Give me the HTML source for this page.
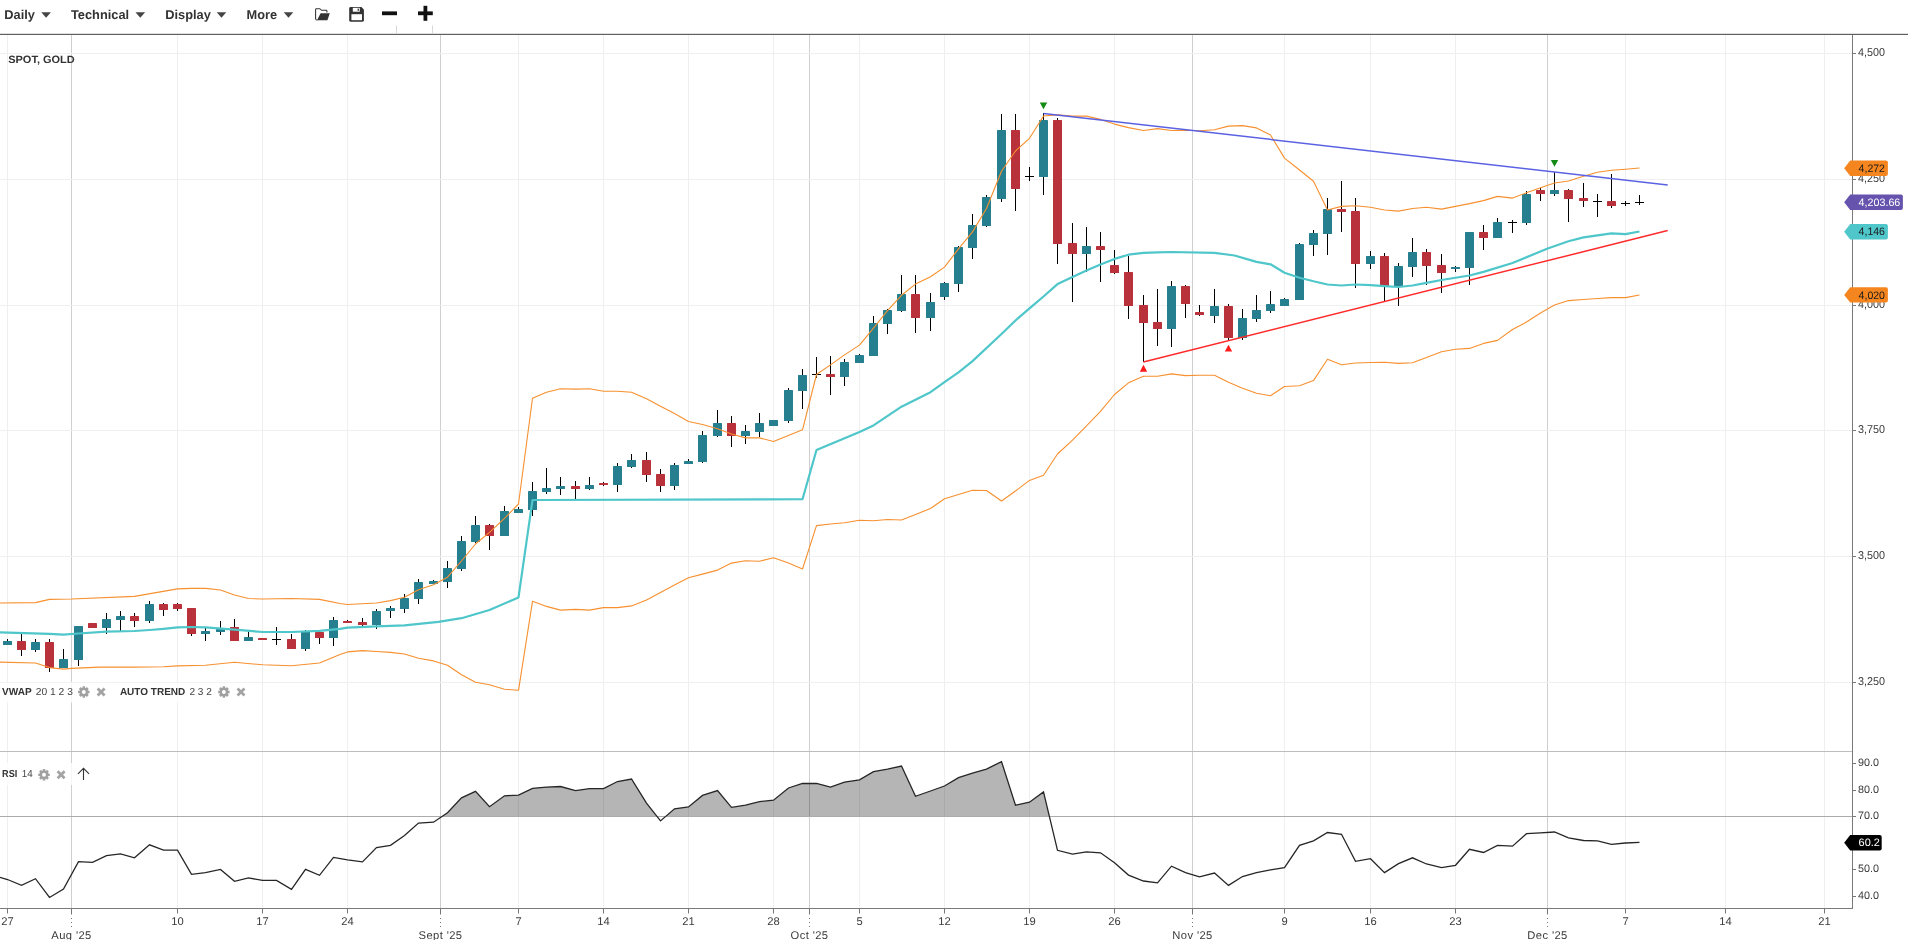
<!DOCTYPE html><html><head><meta charset="utf-8"><title>SPOT, GOLD</title><style>html,body{margin:0;padding:0;background:#fff;overflow:hidden;position:relative}svg{display:block;will-change:transform}text{font-family:"Liberation Sans",sans-serif;text-rendering:geometricPrecision}</style></head><body><svg width="1908" height="940" viewBox="0 0 1908 940"><rect x="0" y="0" width="1908" height="940" fill="#fff"/><line x1="7.5" y1="35" x2="7.5" y2="908" stroke="#efefef" stroke-width="1"/><line x1="177.5" y1="35" x2="177.5" y2="908" stroke="#efefef" stroke-width="1"/><line x1="262.5" y1="35" x2="262.5" y2="908" stroke="#efefef" stroke-width="1"/><line x1="347.5" y1="35" x2="347.5" y2="908" stroke="#efefef" stroke-width="1"/><line x1="518.5" y1="35" x2="518.5" y2="908" stroke="#efefef" stroke-width="1"/><line x1="603.5" y1="35" x2="603.5" y2="908" stroke="#efefef" stroke-width="1"/><line x1="688.5" y1="35" x2="688.5" y2="908" stroke="#efefef" stroke-width="1"/><line x1="773.5" y1="35" x2="773.5" y2="908" stroke="#efefef" stroke-width="1"/><line x1="859.5" y1="35" x2="859.5" y2="908" stroke="#efefef" stroke-width="1"/><line x1="944.5" y1="35" x2="944.5" y2="908" stroke="#efefef" stroke-width="1"/><line x1="1029.5" y1="35" x2="1029.5" y2="908" stroke="#efefef" stroke-width="1"/><line x1="1114.5" y1="35" x2="1114.5" y2="908" stroke="#efefef" stroke-width="1"/><line x1="1284.5" y1="35" x2="1284.5" y2="908" stroke="#efefef" stroke-width="1"/><line x1="1370.5" y1="35" x2="1370.5" y2="908" stroke="#efefef" stroke-width="1"/><line x1="1455.5" y1="35" x2="1455.5" y2="908" stroke="#efefef" stroke-width="1"/><line x1="1625.5" y1="35" x2="1625.5" y2="908" stroke="#efefef" stroke-width="1"/><line x1="1725.5" y1="35" x2="1725.5" y2="908" stroke="#efefef" stroke-width="1"/><line x1="1824.5" y1="35" x2="1824.5" y2="908" stroke="#efefef" stroke-width="1"/><line x1="71.5" y1="35" x2="71.5" y2="908" stroke="#cfcfcf" stroke-width="1"/><line x1="440.5" y1="35" x2="440.5" y2="908" stroke="#cfcfcf" stroke-width="1"/><line x1="809.5" y1="35" x2="809.5" y2="908" stroke="#cfcfcf" stroke-width="1"/><line x1="1192.5" y1="35" x2="1192.5" y2="908" stroke="#cfcfcf" stroke-width="1"/><line x1="1547.5" y1="35" x2="1547.5" y2="908" stroke="#cfcfcf" stroke-width="1"/><line x1="0" y1="53.5" x2="1852.5" y2="53.5" stroke="#f0f0f0" stroke-width="1"/><line x1="0" y1="179.5" x2="1852.5" y2="179.5" stroke="#f0f0f0" stroke-width="1"/><line x1="0" y1="305.5" x2="1852.5" y2="305.5" stroke="#f0f0f0" stroke-width="1"/><line x1="0" y1="430.5" x2="1852.5" y2="430.5" stroke="#f0f0f0" stroke-width="1"/><line x1="0" y1="556.5" x2="1852.5" y2="556.5" stroke="#f0f0f0" stroke-width="1"/><line x1="0" y1="682.5" x2="1852.5" y2="682.5" stroke="#f0f0f0" stroke-width="1"/><rect x="7" y="639" width="1" height="6" fill="#000"/><rect x="3" y="641" width="9" height="4" rx="0.6" fill="#267f8f"/><rect x="21" y="634" width="1" height="22" fill="#000"/><rect x="17" y="641" width="9" height="9" rx="0.6" fill="#b9313a"/><rect x="35" y="639" width="1" height="13" fill="#000"/><rect x="31" y="642" width="9" height="8" rx="0.6" fill="#267f8f"/><rect x="49" y="639" width="1" height="33" fill="#000"/><rect x="45" y="642" width="9" height="26" rx="0.6" fill="#b9313a"/><rect x="63" y="649" width="1" height="19" fill="#000"/><rect x="59" y="659" width="9" height="9" rx="0.6" fill="#267f8f"/><rect x="78" y="626" width="1" height="40" fill="#000"/><rect x="74" y="626" width="9" height="34" rx="0.6" fill="#267f8f"/><rect x="92" y="623" width="1" height="5" fill="#000"/><rect x="88" y="623" width="9" height="5" rx="0.6" fill="#b9313a"/><rect x="106" y="613" width="1" height="21" fill="#000"/><rect x="102" y="619" width="9" height="9" rx="0.6" fill="#267f8f"/><rect x="120" y="611" width="1" height="20" fill="#000"/><rect x="116" y="616" width="9" height="4" rx="0.6" fill="#267f8f"/><rect x="134" y="613" width="1" height="14" fill="#000"/><rect x="130" y="616" width="9" height="5" rx="0.6" fill="#b9313a"/><rect x="149" y="601" width="1" height="22" fill="#000"/><rect x="145" y="604" width="9" height="17" rx="0.6" fill="#267f8f"/><rect x="163" y="603" width="1" height="13" fill="#000"/><rect x="159" y="604" width="9" height="6" rx="0.6" fill="#b9313a"/><rect x="177" y="603" width="1" height="8" fill="#000"/><rect x="173" y="604" width="9" height="5" rx="0.6" fill="#b9313a"/><rect x="191" y="608" width="1" height="28" fill="#000"/><rect x="187" y="608" width="9" height="26" rx="0.6" fill="#b9313a"/><rect x="205" y="628" width="1" height="13" fill="#000"/><rect x="201" y="631" width="9" height="3" rx="0.6" fill="#267f8f"/><rect x="220" y="621" width="1" height="14" fill="#000"/><rect x="216" y="629" width="9" height="3" rx="0.6" fill="#267f8f"/><rect x="234" y="619" width="1" height="22" fill="#000"/><rect x="230" y="627" width="9" height="14" rx="0.6" fill="#b9313a"/><rect x="248" y="632" width="1" height="9" fill="#000"/><rect x="244" y="637" width="9" height="4" rx="0.6" fill="#267f8f"/><rect x="262" y="638" width="1" height="2" fill="#000"/><rect x="258" y="638" width="9" height="2" rx="0.6" fill="#b9313a"/><rect x="276" y="627" width="1" height="18" fill="#000"/><rect x="272" y="639" width="9" height="1" fill="#000"/><rect x="291" y="634" width="1" height="15" fill="#000"/><rect x="287" y="639" width="9" height="10" rx="0.6" fill="#b9313a"/><rect x="305" y="630" width="1" height="21" fill="#000"/><rect x="301" y="631" width="9" height="18" rx="0.6" fill="#267f8f"/><rect x="319" y="632" width="1" height="12" fill="#000"/><rect x="315" y="632" width="9" height="6" rx="0.6" fill="#b9313a"/><rect x="333" y="617" width="1" height="29" fill="#000"/><rect x="329" y="620" width="9" height="18" rx="0.6" fill="#267f8f"/><rect x="347" y="620" width="1" height="3" fill="#000"/><rect x="343" y="621" width="9" height="2" rx="0.6" fill="#b9313a"/><rect x="362" y="618" width="1" height="8" fill="#000"/><rect x="358" y="622" width="9" height="3" rx="0.6" fill="#b9313a"/><rect x="376" y="609" width="1" height="20" fill="#000"/><rect x="372" y="611" width="9" height="14" rx="0.6" fill="#267f8f"/><rect x="390" y="606" width="1" height="12" fill="#000"/><rect x="386" y="608" width="9" height="3" rx="0.6" fill="#267f8f"/><rect x="404" y="594" width="1" height="19" fill="#000"/><rect x="400" y="598" width="9" height="11" rx="0.6" fill="#267f8f"/><rect x="418" y="579" width="1" height="25" fill="#000"/><rect x="414" y="582" width="9" height="17" rx="0.6" fill="#267f8f"/><rect x="433" y="580" width="1" height="4" fill="#000"/><rect x="429" y="581" width="9" height="3" rx="0.6" fill="#267f8f"/><rect x="447" y="561" width="1" height="27" fill="#000"/><rect x="443" y="568" width="9" height="14" rx="0.6" fill="#267f8f"/><rect x="461" y="536" width="1" height="35" fill="#000"/><rect x="457" y="541" width="9" height="28" rx="0.6" fill="#267f8f"/><rect x="475" y="516" width="1" height="27" fill="#000"/><rect x="471" y="525" width="9" height="17" rx="0.6" fill="#267f8f"/><rect x="489" y="524" width="1" height="26" fill="#000"/><rect x="485" y="525" width="9" height="11" rx="0.6" fill="#b9313a"/><rect x="504" y="506" width="1" height="30" fill="#000"/><rect x="500" y="511" width="9" height="25" rx="0.6" fill="#267f8f"/><rect x="518" y="507" width="1" height="6" fill="#000"/><rect x="514" y="509" width="9" height="4" rx="0.6" fill="#267f8f"/><rect x="532" y="482" width="1" height="34" fill="#000"/><rect x="528" y="491" width="9" height="19" rx="0.6" fill="#267f8f"/><rect x="546" y="468" width="1" height="26" fill="#000"/><rect x="542" y="488" width="9" height="4" rx="0.6" fill="#267f8f"/><rect x="560" y="477" width="1" height="18" fill="#000"/><rect x="556" y="486" width="9" height="3" rx="0.6" fill="#267f8f"/><rect x="575" y="481" width="1" height="18" fill="#000"/><rect x="571" y="486" width="9" height="3" rx="0.6" fill="#b9313a"/><rect x="589" y="477" width="1" height="13" fill="#000"/><rect x="585" y="485" width="9" height="4" rx="0.6" fill="#267f8f"/><rect x="603" y="482" width="1" height="4" fill="#000"/><rect x="599" y="483" width="9" height="2" rx="0.6" fill="#b9313a"/><rect x="617" y="463" width="1" height="29" fill="#000"/><rect x="613" y="466" width="9" height="19" rx="0.6" fill="#267f8f"/><rect x="631" y="454" width="1" height="14" fill="#000"/><rect x="627" y="460" width="9" height="7" rx="0.6" fill="#267f8f"/><rect x="646" y="452" width="1" height="30" fill="#000"/><rect x="642" y="460" width="9" height="15" rx="0.6" fill="#b9313a"/><rect x="660" y="469" width="1" height="23" fill="#000"/><rect x="656" y="474" width="9" height="12" rx="0.6" fill="#b9313a"/><rect x="674" y="463" width="1" height="27" fill="#000"/><rect x="670" y="465" width="9" height="21" rx="0.6" fill="#267f8f"/><rect x="688" y="459" width="1" height="5" fill="#000"/><rect x="684" y="461" width="9" height="3" rx="0.6" fill="#267f8f"/><rect x="702" y="431" width="1" height="32" fill="#000"/><rect x="698" y="435" width="9" height="27" rx="0.6" fill="#267f8f"/><rect x="717" y="410" width="1" height="27" fill="#000"/><rect x="713" y="423" width="9" height="13" rx="0.6" fill="#267f8f"/><rect x="731" y="416" width="1" height="31" fill="#000"/><rect x="727" y="423" width="9" height="13" rx="0.6" fill="#b9313a"/><rect x="745" y="425" width="1" height="19" fill="#000"/><rect x="741" y="431" width="9" height="5" rx="0.6" fill="#267f8f"/><rect x="759" y="413" width="1" height="24" fill="#000"/><rect x="755" y="423" width="9" height="9" rx="0.6" fill="#267f8f"/><rect x="773" y="420" width="1" height="6" fill="#000"/><rect x="769" y="420" width="9" height="6" rx="0.6" fill="#267f8f"/><rect x="788" y="388" width="1" height="35" fill="#000"/><rect x="784" y="390" width="9" height="31" rx="0.6" fill="#267f8f"/><rect x="802" y="369" width="1" height="40" fill="#000"/><rect x="798" y="375" width="9" height="16" rx="0.6" fill="#267f8f"/><rect x="816" y="357" width="1" height="21" fill="#000"/><rect x="812" y="374" width="9" height="1" fill="#000"/><rect x="830" y="356" width="1" height="39" fill="#000"/><rect x="826" y="374" width="9" height="3" rx="0.6" fill="#b9313a"/><rect x="844" y="359" width="1" height="27" fill="#000"/><rect x="840" y="362" width="9" height="15" rx="0.6" fill="#267f8f"/><rect x="859" y="354" width="1" height="9" fill="#000"/><rect x="855" y="355" width="9" height="8" rx="0.6" fill="#267f8f"/><rect x="873" y="316" width="1" height="40" fill="#000"/><rect x="869" y="323" width="9" height="33" rx="0.6" fill="#267f8f"/><rect x="887" y="309" width="1" height="25" fill="#000"/><rect x="883" y="310" width="9" height="14" rx="0.6" fill="#267f8f"/><rect x="901" y="275" width="1" height="37" fill="#000"/><rect x="897" y="294" width="9" height="17" rx="0.6" fill="#267f8f"/><rect x="915" y="275" width="1" height="58" fill="#000"/><rect x="911" y="294" width="9" height="24" rx="0.6" fill="#b9313a"/><rect x="930" y="293" width="1" height="38" fill="#000"/><rect x="926" y="302" width="9" height="16" rx="0.6" fill="#267f8f"/><rect x="944" y="282" width="1" height="18" fill="#000"/><rect x="940" y="283" width="9" height="14" rx="0.6" fill="#267f8f"/><rect x="958" y="246" width="1" height="46" fill="#000"/><rect x="954" y="247" width="9" height="37" rx="0.6" fill="#267f8f"/><rect x="972" y="214" width="1" height="45" fill="#000"/><rect x="968" y="225" width="9" height="23" rx="0.6" fill="#267f8f"/><rect x="986" y="195" width="1" height="32" fill="#000"/><rect x="982" y="197" width="9" height="29" rx="0.6" fill="#267f8f"/><rect x="1001" y="114" width="1" height="88" fill="#000"/><rect x="997" y="130" width="9" height="69" rx="0.6" fill="#267f8f"/><rect x="1015" y="114" width="1" height="97" fill="#000"/><rect x="1011" y="130" width="9" height="59" rx="0.6" fill="#b9313a"/><rect x="1029" y="167" width="1" height="14" fill="#000"/><rect x="1025" y="176" width="9" height="1" fill="#000"/><rect x="1043" y="113" width="1" height="82" fill="#000"/><rect x="1039" y="120" width="9" height="57" rx="0.6" fill="#267f8f"/><rect x="1057" y="118" width="1" height="146" fill="#000"/><rect x="1053" y="120" width="9" height="124" rx="0.6" fill="#b9313a"/><rect x="1072" y="223" width="1" height="79" fill="#000"/><rect x="1068" y="243" width="9" height="11" rx="0.6" fill="#b9313a"/><rect x="1086" y="227" width="1" height="45" fill="#000"/><rect x="1082" y="246" width="9" height="8" rx="0.6" fill="#267f8f"/><rect x="1100" y="232" width="1" height="50" fill="#000"/><rect x="1096" y="246" width="9" height="4" rx="0.6" fill="#b9313a"/><rect x="1114" y="250" width="1" height="24" fill="#000"/><rect x="1110" y="265" width="9" height="8" rx="0.6" fill="#b9313a"/><rect x="1128" y="256" width="1" height="63" fill="#000"/><rect x="1124" y="272" width="9" height="34" rx="0.6" fill="#b9313a"/><rect x="1143" y="295" width="1" height="67" fill="#000"/><rect x="1139" y="305" width="9" height="18" rx="0.6" fill="#b9313a"/><rect x="1157" y="289" width="1" height="57" fill="#000"/><rect x="1153" y="322" width="9" height="7" rx="0.6" fill="#b9313a"/><rect x="1171" y="281" width="1" height="66" fill="#000"/><rect x="1167" y="286" width="9" height="43" rx="0.6" fill="#267f8f"/><rect x="1185" y="285" width="1" height="33" fill="#000"/><rect x="1181" y="286" width="9" height="18" rx="0.6" fill="#b9313a"/><rect x="1199" y="305" width="1" height="11" fill="#000"/><rect x="1195" y="312" width="9" height="3" rx="0.6" fill="#b9313a"/><rect x="1214" y="289" width="1" height="34" fill="#000"/><rect x="1210" y="306" width="9" height="10" rx="0.6" fill="#267f8f"/><rect x="1228" y="304" width="1" height="36" fill="#000"/><rect x="1224" y="306" width="9" height="32" rx="0.6" fill="#b9313a"/><rect x="1242" y="309" width="1" height="31" fill="#000"/><rect x="1238" y="318" width="9" height="20" rx="0.6" fill="#267f8f"/><rect x="1256" y="295" width="1" height="27" fill="#000"/><rect x="1252" y="310" width="9" height="9" rx="0.6" fill="#267f8f"/><rect x="1270" y="291" width="1" height="22" fill="#000"/><rect x="1266" y="304" width="9" height="7" rx="0.6" fill="#267f8f"/><rect x="1284" y="298" width="1" height="8" fill="#000"/><rect x="1280" y="299" width="9" height="7" rx="0.6" fill="#267f8f"/><rect x="1299" y="243" width="1" height="57" fill="#000"/><rect x="1295" y="244" width="9" height="56" rx="0.6" fill="#267f8f"/><rect x="1313" y="230" width="1" height="26" fill="#000"/><rect x="1309" y="233" width="9" height="12" rx="0.6" fill="#267f8f"/><rect x="1327" y="198" width="1" height="57" fill="#000"/><rect x="1323" y="209" width="9" height="25" rx="0.6" fill="#267f8f"/><rect x="1341" y="181" width="1" height="51" fill="#000"/><rect x="1337" y="209" width="9" height="3" rx="0.6" fill="#b9313a"/><rect x="1355" y="198" width="1" height="90" fill="#000"/><rect x="1351" y="211" width="9" height="53" rx="0.6" fill="#b9313a"/><rect x="1370" y="251" width="1" height="18" fill="#000"/><rect x="1366" y="256" width="9" height="8" rx="0.6" fill="#267f8f"/><rect x="1384" y="253" width="1" height="48" fill="#000"/><rect x="1380" y="256" width="9" height="30" rx="0.6" fill="#b9313a"/><rect x="1398" y="263" width="1" height="43" fill="#000"/><rect x="1394" y="266" width="9" height="20" rx="0.6" fill="#267f8f"/><rect x="1412" y="238" width="1" height="39" fill="#000"/><rect x="1408" y="252" width="9" height="15" rx="0.6" fill="#267f8f"/><rect x="1426" y="249" width="1" height="36" fill="#000"/><rect x="1422" y="252" width="9" height="14" rx="0.6" fill="#b9313a"/><rect x="1441" y="254" width="1" height="39" fill="#000"/><rect x="1437" y="265" width="9" height="8" rx="0.6" fill="#b9313a"/><rect x="1455" y="266" width="1" height="6" fill="#000"/><rect x="1451" y="267" width="9" height="2" rx="0.6" fill="#267f8f"/><rect x="1469" y="232" width="1" height="53" fill="#000"/><rect x="1465" y="232" width="9" height="36" rx="0.6" fill="#267f8f"/><rect x="1483" y="225" width="1" height="25" fill="#000"/><rect x="1479" y="232" width="9" height="6" rx="0.6" fill="#b9313a"/><rect x="1497" y="218" width="1" height="20" fill="#000"/><rect x="1493" y="222" width="9" height="16" rx="0.6" fill="#267f8f"/><rect x="1512" y="220" width="1" height="13" fill="#000"/><rect x="1508" y="222" width="9" height="1" fill="#000"/><rect x="1526" y="191" width="1" height="34" fill="#000"/><rect x="1522" y="194" width="9" height="29" rx="0.6" fill="#267f8f"/><rect x="1540" y="188" width="1" height="13" fill="#000"/><rect x="1536" y="190" width="9" height="4" rx="0.6" fill="#b9313a"/><rect x="1554" y="172" width="1" height="24" fill="#000"/><rect x="1550" y="190" width="9" height="4" rx="0.6" fill="#267f8f"/><rect x="1568" y="189" width="1" height="33" fill="#000"/><rect x="1564" y="190" width="9" height="9" rx="0.6" fill="#b9313a"/><rect x="1583" y="183" width="1" height="24" fill="#000"/><rect x="1579" y="198" width="9" height="3" rx="0.6" fill="#b9313a"/><rect x="1597" y="194" width="1" height="23" fill="#000"/><rect x="1593" y="201" width="9" height="1" fill="#000"/><rect x="1611" y="174" width="1" height="34" fill="#000"/><rect x="1607" y="201" width="9" height="5" rx="0.6" fill="#b9313a"/><rect x="1625" y="201" width="1" height="5" fill="#000"/><rect x="1621" y="203" width="9" height="1" fill="#000"/><rect x="1639" y="195" width="1" height="10" fill="#000"/><rect x="1635" y="202" width="9" height="1" fill="#000"/><polyline points="0.0,603.0 35.5,602.6 49.5,599.4 71.3,599.0 134.5,596.4 177.5,588.9 191.5,588.4 205.5,588.4 220.5,590.0 234.5,595.0 248.5,598.5 262.5,599.0 291.5,598.5 319.5,599.4 340.0,603.5 347.5,604.5 376.5,603.0 390.5,600.6 404.5,597.3 418.5,589.8 433.5,584.7 447.5,577.2 461.5,561.0 475.5,544.0 489.5,532.3 504.5,518.3 518.5,504.0 532.5,398.3 546.5,392.3 560.5,388.7 575.5,389.1 589.5,388.7 603.5,391.3 617.5,391.3 631.5,392.3 646.5,398.7 660.5,406.2 674.5,413.6 688.5,421.5 702.5,424.5 717.5,428.7 731.5,434.0 745.5,437.9 759.5,437.9 773.5,441.5 802.5,429.8 816.5,374.5 830.5,364.9 844.5,354.9 859.5,345.1 873.5,328.2 887.5,310.7 901.5,295.3 915.5,284.1 930.5,276.7 944.5,267.1 958.5,248.9 972.5,231.9 986.5,208.5 1001.5,171.3 1015.5,151.0 1029.5,138.3 1043.5,116.0 1057.5,114.9 1072.5,116.1 1086.5,116.1 1100.5,119.4 1114.5,124.1 1128.5,127.6 1143.5,130.5 1157.5,128.6 1171.5,130.5 1185.5,130.2 1199.5,130.8 1214.5,129.8 1228.5,126.1 1242.5,125.6 1256.5,127.9 1270.5,135.0 1284.5,158.1 1299.5,170.0 1313.5,181.3 1327.5,210.0 1341.5,206.4 1355.5,205.7 1370.5,207.2 1384.5,210.0 1398.5,211.1 1412.5,208.5 1426.5,207.2 1441.5,209.1 1455.5,206.4 1469.5,203.6 1483.5,200.6 1497.5,196.4 1512.5,198.1 1526.5,192.8 1540.5,187.8 1554.5,183.0 1568.5,181.0 1583.5,176.2 1597.5,172.3 1611.5,170.3 1625.5,169.3 1639.5,168.0" fill="none" stroke="#f7902f" stroke-width="1.1" stroke-linejoin="round"/><polyline points="0.0,662.1 35.5,663.0 49.5,667.6 63.5,669.1 71.3,668.4 99.8,667.1 134.5,667.1 163.5,666.8 177.5,665.9 205.5,665.3 234.5,662.3 262.5,664.8 291.5,665.7 319.5,663.0 340.0,654.6 347.5,651.9 362.5,650.6 376.5,651.5 390.5,652.4 404.5,654.0 418.5,658.2 433.5,660.9 447.5,665.3 461.5,674.8 475.5,682.3 489.5,684.8 504.5,689.2 518.5,690.3 532.5,601.3 546.5,606.4 560.5,610.1 575.5,609.4 589.5,610.1 603.5,607.6 617.5,607.6 631.5,605.9 646.5,599.9 660.5,592.4 674.5,584.9 688.5,577.8 702.5,574.1 717.5,570.1 731.5,563.1 745.5,560.8 759.5,561.2 773.5,557.7 788.5,563.1 802.5,569.0 816.5,525.6 830.5,524.0 844.5,522.8 859.5,520.2 873.5,520.7 887.5,519.5 901.5,520.0 915.5,514.4 930.5,508.5 944.5,498.7 958.5,494.5 972.5,490.3 986.5,490.5 1001.5,501.0 1015.5,491.0 1029.5,480.4 1043.5,475.3 1057.5,454.0 1072.5,440.2 1086.5,425.9 1100.5,411.4 1114.5,394.5 1128.5,382.8 1143.5,376.3 1157.5,376.3 1171.5,373.9 1185.5,375.6 1199.5,375.3 1214.5,375.3 1228.5,382.3 1242.5,388.2 1256.5,393.2 1270.5,395.7 1284.5,386.5 1299.5,385.7 1313.5,380.6 1327.5,359.2 1341.5,364.7 1355.5,363.0 1370.5,362.5 1384.5,362.2 1398.5,363.4 1412.5,362.7 1426.5,357.5 1441.5,351.8 1455.5,349.3 1469.5,348.4 1483.5,343.4 1497.5,340.4 1512.5,329.5 1526.5,322.0 1540.5,313.0 1554.5,305.0 1568.5,300.6 1583.5,299.5 1597.5,298.5 1611.5,297.6 1625.5,297.6 1639.5,295.0" fill="none" stroke="#f7902f" stroke-width="1.1" stroke-linejoin="round"/><polyline points="0.0,632.4 49.5,633.8 63.5,634.7 78.5,633.5 106.5,631.7 134.5,631.0 149.5,630.0 163.5,628.8 177.5,627.4 191.5,627.0 205.5,627.4 234.5,629.7 262.5,632.0 291.5,632.0 319.5,630.9 340.0,628.8 347.5,627.6 376.5,626.4 404.5,625.3 438.4,621.9 461.5,618.2 489.5,610.0 518.5,597.4 532.5,500.0 802.5,499.2 816.5,450.0 859.5,431.9 873.5,425.4 901.5,406.7 930.5,392.2 944.5,382.1 958.5,372.3 972.5,361.1 1001.5,334.0 1015.5,320.5 1029.5,308.3 1043.5,296.5 1057.5,284.1 1072.5,277.0 1086.5,270.4 1100.5,264.5 1114.5,258.9 1128.5,254.7 1143.5,252.8 1157.5,252.3 1171.5,252.0 1214.5,252.8 1234.5,255.5 1256.5,261.9 1270.5,264.3 1284.5,272.8 1299.5,277.7 1313.5,281.3 1327.5,284.5 1341.5,285.5 1355.5,284.5 1370.5,285.1 1384.5,286.2 1398.5,287.0 1412.5,285.5 1426.5,282.8 1441.5,280.0 1469.5,275.5 1483.5,271.9 1512.5,263.0 1547.7,248.5 1568.5,241.3 1583.5,237.4 1611.5,233.3 1625.5,234.1 1639.5,231.5" fill="none" stroke="#4ec6ca" stroke-width="2.2" stroke-linejoin="round"/><line x1="1043.5" y1="113.4" x2="1667.7" y2="185" stroke="#5a62e2" stroke-width="1.5"/><line x1="1143.4" y1="361.9" x2="1667.7" y2="230.6" stroke="#ff2a2a" stroke-width="1.5"/><polygon points="1039.8,102.4 1047.2,102.4 1043.5,109.2" fill="#138a13"/><polygon points="1550.8,160.0 1558.2,160.0 1554.5,166.8" fill="#138a13"/><polygon points="1139.8,371.8 1147.2,371.8 1143.5,364.8" fill="#ff1a1a"/><polygon points="1224.8,351.6 1232.2,351.6 1228.5,344.8" fill="#ff1a1a"/><line x1="0" y1="751.5" x2="1852.5" y2="751.5" stroke="#bdbdbd" stroke-width="1"/><defs><clipPath id="c70"><rect x="0" y="752" width="1852" height="64.5"/></clipPath></defs><polygon points="0.0,877.4 7.5,879.5 21.5,885.4 35.5,878.7 49.5,897.5 63.5,889.0 78.5,861.7 92.5,862.3 106.5,855.7 120.5,853.9 134.5,857.8 149.5,844.8 163.5,850.1 177.5,850.1 191.5,874.4 205.5,872.6 220.5,869.4 234.5,881.3 248.5,877.9 262.5,880.4 276.5,880.4 291.5,889.3 305.5,869.4 319.5,875.3 333.5,857.4 347.5,859.9 362.5,861.9 376.5,847.6 390.5,845.3 404.5,835.5 418.5,823.1 433.5,822.2 447.5,812.7 461.5,797.8 475.5,791.3 489.5,806.7 504.5,795.8 518.5,795.1 532.5,788.3 546.5,787.1 560.5,786.5 575.5,790.6 589.5,788.7 603.5,788.7 617.5,781.5 631.5,779.0 646.5,803.1 660.5,820.9 674.5,808.8 688.5,807.0 702.5,795.4 717.5,790.6 731.5,807.4 745.5,805.2 759.5,801.7 773.5,800.2 788.5,788.0 802.5,783.5 816.5,783.3 830.5,787.1 844.5,782.1 859.5,779.9 873.5,771.7 887.5,769.1 901.5,766.0 915.5,796.3 930.5,791.0 944.5,786.0 958.5,777.6 972.5,773.2 986.5,769.1 1001.5,761.6 1015.5,805.2 1029.5,802.2 1043.5,791.9 1057.5,850.3 1072.5,854.2 1086.5,851.9 1100.5,852.8 1114.5,862.8 1128.5,875.1 1143.5,881.0 1157.5,882.8 1171.5,866.2 1185.5,872.6 1199.5,876.9 1214.5,873.0 1228.5,885.4 1242.5,876.5 1256.5,872.6 1270.5,869.9 1284.5,867.6 1299.5,845.3 1313.5,840.9 1327.5,832.5 1341.5,834.3 1355.5,861.4 1370.5,858.7 1384.5,872.6 1398.5,863.7 1412.5,857.8 1426.5,864.0 1441.5,867.6 1455.5,865.3 1469.5,849.3 1483.5,852.5 1497.5,845.3 1512.5,846.2 1526.5,833.7 1540.5,832.9 1554.5,832.0 1568.5,837.8 1583.5,840.5 1597.5,840.9 1611.5,844.4 1625.5,843.0 1639.5,842.3 1639.5,816.5 0.0,816.5" fill="rgba(0,0,0,0.29)" clip-path="url(#c70)"/><line x1="0" y1="816.5" x2="1852.5" y2="816.5" stroke="#ababab" stroke-width="1"/><polyline points="0.0,877.4 7.5,879.5 21.5,885.4 35.5,878.7 49.5,897.5 63.5,889.0 78.5,861.7 92.5,862.3 106.5,855.7 120.5,853.9 134.5,857.8 149.5,844.8 163.5,850.1 177.5,850.1 191.5,874.4 205.5,872.6 220.5,869.4 234.5,881.3 248.5,877.9 262.5,880.4 276.5,880.4 291.5,889.3 305.5,869.4 319.5,875.3 333.5,857.4 347.5,859.9 362.5,861.9 376.5,847.6 390.5,845.3 404.5,835.5 418.5,823.1 433.5,822.2 447.5,812.7 461.5,797.8 475.5,791.3 489.5,806.7 504.5,795.8 518.5,795.1 532.5,788.3 546.5,787.1 560.5,786.5 575.5,790.6 589.5,788.7 603.5,788.7 617.5,781.5 631.5,779.0 646.5,803.1 660.5,820.9 674.5,808.8 688.5,807.0 702.5,795.4 717.5,790.6 731.5,807.4 745.5,805.2 759.5,801.7 773.5,800.2 788.5,788.0 802.5,783.5 816.5,783.3 830.5,787.1 844.5,782.1 859.5,779.9 873.5,771.7 887.5,769.1 901.5,766.0 915.5,796.3 930.5,791.0 944.5,786.0 958.5,777.6 972.5,773.2 986.5,769.1 1001.5,761.6 1015.5,805.2 1029.5,802.2 1043.5,791.9 1057.5,850.3 1072.5,854.2 1086.5,851.9 1100.5,852.8 1114.5,862.8 1128.5,875.1 1143.5,881.0 1157.5,882.8 1171.5,866.2 1185.5,872.6 1199.5,876.9 1214.5,873.0 1228.5,885.4 1242.5,876.5 1256.5,872.6 1270.5,869.9 1284.5,867.6 1299.5,845.3 1313.5,840.9 1327.5,832.5 1341.5,834.3 1355.5,861.4 1370.5,858.7 1384.5,872.6 1398.5,863.7 1412.5,857.8 1426.5,864.0 1441.5,867.6 1455.5,865.3 1469.5,849.3 1483.5,852.5 1497.5,845.3 1512.5,846.2 1526.5,833.7 1540.5,832.9 1554.5,832.0 1568.5,837.8 1583.5,840.5 1597.5,840.9 1611.5,844.4 1625.5,843.0 1639.5,842.3" fill="none" stroke="#262626" stroke-width="1.3" stroke-linejoin="miter"/><line x1="1852.5" y1="35" x2="1852.5" y2="908.5" stroke="#7a7a7a" stroke-width="1"/><line x1="0" y1="908.5" x2="1853.0" y2="908.5" stroke="#7a7a7a" stroke-width="1"/><line x1="1853" y1="53.5" x2="1856" y2="53.5" stroke="#777" stroke-width="1"/><text x="1858.1" y="56.1" font-size="11.4" fill="#3a3a3a" textLength="27" lengthAdjust="spacingAndGlyphs">4,500</text><line x1="1853" y1="179.5" x2="1856" y2="179.5" stroke="#777" stroke-width="1"/><text x="1858.1" y="182.1" font-size="11.4" fill="#3a3a3a" textLength="27" lengthAdjust="spacingAndGlyphs">4,250</text><line x1="1853" y1="305.5" x2="1856" y2="305.5" stroke="#777" stroke-width="1"/><text x="1858.1" y="308.1" font-size="11.4" fill="#3a3a3a" textLength="27" lengthAdjust="spacingAndGlyphs">4,000</text><line x1="1853" y1="430.5" x2="1856" y2="430.5" stroke="#777" stroke-width="1"/><text x="1858.1" y="433.1" font-size="11.4" fill="#3a3a3a" textLength="27" lengthAdjust="spacingAndGlyphs">3,750</text><line x1="1853" y1="556.5" x2="1856" y2="556.5" stroke="#777" stroke-width="1"/><text x="1858.1" y="559.1" font-size="11.4" fill="#3a3a3a" textLength="27" lengthAdjust="spacingAndGlyphs">3,500</text><line x1="1853" y1="682.5" x2="1856" y2="682.5" stroke="#777" stroke-width="1"/><text x="1858.1" y="685.1" font-size="11.4" fill="#3a3a3a" textLength="27" lengthAdjust="spacingAndGlyphs">3,250</text><line x1="1853" y1="763.5" x2="1856" y2="763.5" stroke="#777" stroke-width="1"/><text x="1858.1" y="765.9" font-size="10.8" fill="#3a3a3a" textLength="21" lengthAdjust="spacingAndGlyphs">90.0</text><line x1="1853" y1="790.5" x2="1856" y2="790.5" stroke="#777" stroke-width="1"/><text x="1858.1" y="792.9" font-size="10.8" fill="#3a3a3a" textLength="21" lengthAdjust="spacingAndGlyphs">80.0</text><line x1="1853" y1="816.5" x2="1856" y2="816.5" stroke="#777" stroke-width="1"/><text x="1858.1" y="818.9" font-size="10.8" fill="#3a3a3a" textLength="21" lengthAdjust="spacingAndGlyphs">70.0</text><line x1="1853" y1="869.5" x2="1856" y2="869.5" stroke="#777" stroke-width="1"/><text x="1858.1" y="871.9" font-size="10.8" fill="#3a3a3a" textLength="21" lengthAdjust="spacingAndGlyphs">50.0</text><line x1="1853" y1="896.5" x2="1856" y2="896.5" stroke="#777" stroke-width="1"/><text x="1858.1" y="898.9" font-size="10.8" fill="#3a3a3a" textLength="21" lengthAdjust="spacingAndGlyphs">40.0</text><line x1="7.5" y1="908" x2="7.5" y2="913.5" stroke="#777" stroke-width="1"/><text x="7.5" y="925" font-size="11.2" fill="#3a3a3a" text-anchor="middle">27</text><line x1="177.5" y1="908" x2="177.5" y2="913.5" stroke="#777" stroke-width="1"/><text x="177.5" y="925" font-size="11.2" fill="#3a3a3a" text-anchor="middle">10</text><line x1="262.5" y1="908" x2="262.5" y2="913.5" stroke="#777" stroke-width="1"/><text x="262.5" y="925" font-size="11.2" fill="#3a3a3a" text-anchor="middle">17</text><line x1="347.5" y1="908" x2="347.5" y2="913.5" stroke="#777" stroke-width="1"/><text x="347.5" y="925" font-size="11.2" fill="#3a3a3a" text-anchor="middle">24</text><line x1="518.5" y1="908" x2="518.5" y2="913.5" stroke="#777" stroke-width="1"/><text x="518.5" y="925" font-size="11.2" fill="#3a3a3a" text-anchor="middle">7</text><line x1="603.5" y1="908" x2="603.5" y2="913.5" stroke="#777" stroke-width="1"/><text x="603.5" y="925" font-size="11.2" fill="#3a3a3a" text-anchor="middle">14</text><line x1="688.5" y1="908" x2="688.5" y2="913.5" stroke="#777" stroke-width="1"/><text x="688.5" y="925" font-size="11.2" fill="#3a3a3a" text-anchor="middle">21</text><line x1="773.5" y1="908" x2="773.5" y2="913.5" stroke="#777" stroke-width="1"/><text x="773.5" y="925" font-size="11.2" fill="#3a3a3a" text-anchor="middle">28</text><line x1="859.5" y1="908" x2="859.5" y2="913.5" stroke="#777" stroke-width="1"/><text x="859.5" y="925" font-size="11.2" fill="#3a3a3a" text-anchor="middle">5</text><line x1="944.5" y1="908" x2="944.5" y2="913.5" stroke="#777" stroke-width="1"/><text x="944.5" y="925" font-size="11.2" fill="#3a3a3a" text-anchor="middle">12</text><line x1="1029.5" y1="908" x2="1029.5" y2="913.5" stroke="#777" stroke-width="1"/><text x="1029.5" y="925" font-size="11.2" fill="#3a3a3a" text-anchor="middle">19</text><line x1="1114.5" y1="908" x2="1114.5" y2="913.5" stroke="#777" stroke-width="1"/><text x="1114.5" y="925" font-size="11.2" fill="#3a3a3a" text-anchor="middle">26</text><line x1="1284.5" y1="908" x2="1284.5" y2="913.5" stroke="#777" stroke-width="1"/><text x="1284.5" y="925" font-size="11.2" fill="#3a3a3a" text-anchor="middle">9</text><line x1="1370.5" y1="908" x2="1370.5" y2="913.5" stroke="#777" stroke-width="1"/><text x="1370.5" y="925" font-size="11.2" fill="#3a3a3a" text-anchor="middle">16</text><line x1="1455.5" y1="908" x2="1455.5" y2="913.5" stroke="#777" stroke-width="1"/><text x="1455.5" y="925" font-size="11.2" fill="#3a3a3a" text-anchor="middle">23</text><line x1="1625.5" y1="908" x2="1625.5" y2="913.5" stroke="#777" stroke-width="1"/><text x="1625.5" y="925" font-size="11.2" fill="#3a3a3a" text-anchor="middle">7</text><line x1="1725.5" y1="908" x2="1725.5" y2="913.5" stroke="#777" stroke-width="1"/><text x="1725.5" y="925" font-size="11.2" fill="#3a3a3a" text-anchor="middle">14</text><line x1="1824.5" y1="908" x2="1824.5" y2="913.5" stroke="#777" stroke-width="1"/><text x="1824.5" y="925" font-size="11.2" fill="#3a3a3a" text-anchor="middle">21</text><line x1="71.5" y1="908" x2="71.5" y2="914.5" stroke="#777" stroke-width="1"/><line x1="71.5" y1="918" x2="71.5" y2="927" stroke="#777" stroke-width="1" stroke-dasharray="1,3"/><text x="71.5" y="938.8" font-size="11.2" fill="#3a3a3a" text-anchor="middle" letter-spacing="0.4">Aug '25</text><line x1="440.5" y1="908" x2="440.5" y2="914.5" stroke="#777" stroke-width="1"/><line x1="440.5" y1="918" x2="440.5" y2="927" stroke="#777" stroke-width="1" stroke-dasharray="1,3"/><text x="440.5" y="938.8" font-size="11.2" fill="#3a3a3a" text-anchor="middle" letter-spacing="0.4">Sept '25</text><line x1="809.5" y1="908" x2="809.5" y2="914.5" stroke="#777" stroke-width="1"/><line x1="809.5" y1="918" x2="809.5" y2="927" stroke="#777" stroke-width="1" stroke-dasharray="1,3"/><text x="809.5" y="938.8" font-size="11.2" fill="#3a3a3a" text-anchor="middle" letter-spacing="0.4">Oct '25</text><line x1="1192.5" y1="908" x2="1192.5" y2="914.5" stroke="#777" stroke-width="1"/><line x1="1192.5" y1="918" x2="1192.5" y2="927" stroke="#777" stroke-width="1" stroke-dasharray="1,3"/><text x="1192.5" y="938.8" font-size="11.2" fill="#3a3a3a" text-anchor="middle" letter-spacing="0.4">Nov '25</text><line x1="1547.5" y1="908" x2="1547.5" y2="914.5" stroke="#777" stroke-width="1"/><line x1="1547.5" y1="918" x2="1547.5" y2="927" stroke="#777" stroke-width="1" stroke-dasharray="1,3"/><text x="1547.5" y="938.8" font-size="11.2" fill="#3a3a3a" text-anchor="middle" letter-spacing="0.4">Dec '25</text><path d="M1844.2,168.2 L1850.2,160.5 L1885.9,160.5 Q1887.9,160.5 1887.9,162.5 L1887.9,173.89999999999998 Q1887.9,175.89999999999998 1885.9,175.89999999999998 L1850.2,175.89999999999998 Z" fill="#f5861f"/><text x="1858.6" y="171.8" font-size="10.8" fill="#1a1a1a" textLength="26.4" lengthAdjust="spacingAndGlyphs">4,272</text><path d="M1844.2,202.3 L1850.2,194.60000000000002 L1900.9,194.60000000000002 Q1902.9,194.60000000000002 1902.9,196.60000000000002 L1902.9,208.0 Q1902.9,210.0 1900.9,210.0 L1850.2,210.0 Z" fill="#6553ad"/><text x="1858.6" y="205.9" font-size="10.8" fill="#ffffff" textLength="41.7" lengthAdjust="spacingAndGlyphs">4,203.66</text><path d="M1844.2,231.7 L1850.2,224.0 L1885.9,224.0 Q1887.9,224.0 1887.9,226.0 L1887.9,237.39999999999998 Q1887.9,239.39999999999998 1885.9,239.39999999999998 L1850.2,239.39999999999998 Z" fill="#4ec6ca"/><text x="1858.6" y="235.3" font-size="10.8" fill="#1a1a1a" textLength="26.4" lengthAdjust="spacingAndGlyphs">4,146</text><path d="M1844.2,294.9 L1850.2,287.2 L1885.9,287.2 Q1887.9,287.2 1887.9,289.2 L1887.9,300.59999999999997 Q1887.9,302.59999999999997 1885.9,302.59999999999997 L1850.2,302.59999999999997 Z" fill="#f5861f"/><text x="1858.6" y="298.5" font-size="10.8" fill="#1a1a1a" textLength="26.4" lengthAdjust="spacingAndGlyphs">4,020</text><path d="M1844.2,842.8 L1850.2,835.0999999999999 L1879.7,835.0999999999999 Q1881.7,835.0999999999999 1881.7,837.0999999999999 L1881.7,848.5 Q1881.7,850.5 1879.7,850.5 L1850.2,850.5 Z" fill="#000000"/><text x="1858.6" y="846.4" font-size="10.8" fill="#ffffff" textLength="21.3" lengthAdjust="spacingAndGlyphs">60.2</text><text x="8.2" y="62.8" font-size="10.6" font-weight="bold" fill="#333" textLength="66.6" lengthAdjust="spacingAndGlyphs">SPOT, GOLD</text><rect x="0" y="682.8" width="111.5" height="19.7" fill="#fff" fill-opacity="0.8"/><rect x="114" y="682.8" width="137.5" height="19.7" fill="#fff" fill-opacity="0.8"/><text x="2.1" y="694.8" font-size="10.2" font-weight="bold" fill="#333" textLength="29.6" lengthAdjust="spacingAndGlyphs">VWAP</text><text x="35.7" y="694.8" font-size="10.2" fill="#444" textLength="37.2" lengthAdjust="spacingAndGlyphs">20 1 2 3</text><circle cx="83.8" cy="692" r="4.22" fill="#a0a0a0"/><rect x="82.50" y="686.30" width="2.6" height="2.85" fill="#a0a0a0" transform="rotate(0 83.8 692)"/><rect x="82.50" y="686.30" width="2.6" height="2.85" fill="#a0a0a0" transform="rotate(45 83.8 692)"/><rect x="82.50" y="686.30" width="2.6" height="2.85" fill="#a0a0a0" transform="rotate(90 83.8 692)"/><rect x="82.50" y="686.30" width="2.6" height="2.85" fill="#a0a0a0" transform="rotate(135 83.8 692)"/><rect x="82.50" y="686.30" width="2.6" height="2.85" fill="#a0a0a0" transform="rotate(180 83.8 692)"/><rect x="82.50" y="686.30" width="2.6" height="2.85" fill="#a0a0a0" transform="rotate(225 83.8 692)"/><rect x="82.50" y="686.30" width="2.6" height="2.85" fill="#a0a0a0" transform="rotate(270 83.8 692)"/><rect x="82.50" y="686.30" width="2.6" height="2.85" fill="#a0a0a0" transform="rotate(315 83.8 692)"/><circle cx="83.8" cy="692" r="1.94" fill="#fff"/><line x1="97.6" y1="688.5" x2="104.6" y2="695.5" stroke="#a3a3a3" stroke-width="2.7"/><line x1="97.6" y1="695.5" x2="104.6" y2="688.5" stroke="#a3a3a3" stroke-width="2.7"/><text x="119.9" y="694.8" font-size="10.2" font-weight="bold" fill="#333" textLength="65.4" lengthAdjust="spacingAndGlyphs">AUTO TREND</text><text x="189.4" y="694.8" font-size="10.2" fill="#444" textLength="22.5" lengthAdjust="spacingAndGlyphs">2 3 2</text><circle cx="223.9" cy="692" r="4.22" fill="#a0a0a0"/><rect x="222.60" y="686.30" width="2.6" height="2.85" fill="#a0a0a0" transform="rotate(0 223.9 692)"/><rect x="222.60" y="686.30" width="2.6" height="2.85" fill="#a0a0a0" transform="rotate(45 223.9 692)"/><rect x="222.60" y="686.30" width="2.6" height="2.85" fill="#a0a0a0" transform="rotate(90 223.9 692)"/><rect x="222.60" y="686.30" width="2.6" height="2.85" fill="#a0a0a0" transform="rotate(135 223.9 692)"/><rect x="222.60" y="686.30" width="2.6" height="2.85" fill="#a0a0a0" transform="rotate(180 223.9 692)"/><rect x="222.60" y="686.30" width="2.6" height="2.85" fill="#a0a0a0" transform="rotate(225 223.9 692)"/><rect x="222.60" y="686.30" width="2.6" height="2.85" fill="#a0a0a0" transform="rotate(270 223.9 692)"/><rect x="222.60" y="686.30" width="2.6" height="2.85" fill="#a0a0a0" transform="rotate(315 223.9 692)"/><circle cx="223.9" cy="692" r="1.94" fill="#fff"/><line x1="237.5" y1="688.5" x2="244.5" y2="695.5" stroke="#a3a3a3" stroke-width="2.7"/><line x1="237.5" y1="695.5" x2="244.5" y2="688.5" stroke="#a3a3a3" stroke-width="2.7"/><rect x="0" y="763" width="94" height="22" fill="#fff" fill-opacity="0.8"/><text x="2.1" y="777.3" font-size="10.2" font-weight="bold" fill="#333" textLength="15.2" lengthAdjust="spacingAndGlyphs">RSI</text><text x="21.7" y="777.3" font-size="10.2" fill="#444" textLength="10.9" lengthAdjust="spacingAndGlyphs">14</text><circle cx="44" cy="774.8" r="4.22" fill="#a0a0a0"/><rect x="42.70" y="769.10" width="2.6" height="2.85" fill="#a0a0a0" transform="rotate(0 44 774.8)"/><rect x="42.70" y="769.10" width="2.6" height="2.85" fill="#a0a0a0" transform="rotate(45 44 774.8)"/><rect x="42.70" y="769.10" width="2.6" height="2.85" fill="#a0a0a0" transform="rotate(90 44 774.8)"/><rect x="42.70" y="769.10" width="2.6" height="2.85" fill="#a0a0a0" transform="rotate(135 44 774.8)"/><rect x="42.70" y="769.10" width="2.6" height="2.85" fill="#a0a0a0" transform="rotate(180 44 774.8)"/><rect x="42.70" y="769.10" width="2.6" height="2.85" fill="#a0a0a0" transform="rotate(225 44 774.8)"/><rect x="42.70" y="769.10" width="2.6" height="2.85" fill="#a0a0a0" transform="rotate(270 44 774.8)"/><rect x="42.70" y="769.10" width="2.6" height="2.85" fill="#a0a0a0" transform="rotate(315 44 774.8)"/><circle cx="44" cy="774.8" r="1.94" fill="#fff"/><line x1="57.6" y1="771.3" x2="64.6" y2="778.3" stroke="#a3a3a3" stroke-width="2.7"/><line x1="57.6" y1="778.3" x2="64.6" y2="771.3" stroke="#a3a3a3" stroke-width="2.7"/><path d="M83.5,780 L83.5,768.3 M77.9,773.9 L83.5,768.3 L89.1,773.9" fill="none" stroke="#333" stroke-width="1.1"/></svg><svg width="1908" height="35" style="position:absolute;left:0;top:0"><rect x="0" y="0" width="1908" height="34" fill="#fff"/><rect x="0" y="33.8" width="1908" height="1.3" fill="#5f5f5f"/><text x="4.3" y="19" font-size="12.8" font-weight="bold" fill="#333">Daily</text><polygon points="41.3,12.2 50.9,12.2 46.099999999999994,17.8" fill="#444"/><text x="71" y="19" font-size="12.8" font-weight="bold" fill="#333">Technical</text><polygon points="135.5,12.2 145.1,12.2 140.3,17.8" fill="#444"/><text x="165.3" y="19" font-size="12.8" font-weight="bold" fill="#333">Display</text><polygon points="216.7,12.2 226.29999999999998,12.2 221.5,17.8" fill="#444"/><text x="246.6" y="19" font-size="12.8" font-weight="bold" fill="#333">More</text><polygon points="283.7,12.2 293.3,12.2 288.5,17.8" fill="#444"/><path d="M315.6,19.4 L315.6,9.4 Q315.6,8.7 316.3,8.7 L319.8,8.7 L321.6,10.3 L326.3,10.3 Q326.9,10.3 326.9,10.9 L326.9,12.6" fill="none" stroke="#333" stroke-width="1.05"/><path d="M320.6,13.2 L329.8,13.2 L327.4,20.3 L317.0,20.3 Z" fill="#333"/><path d="M315.6,19.4 L317.2,20.3" stroke="#333" stroke-width="1"/><path d="M350.6,7 L361.4,7 L363.9,9.5 L363.9,20.3 Q363.9,21.7 362.5,21.7 L350.6,21.7 Q349.2,21.7 349.2,20.3 L349.2,8.4 Q349.2,7 350.6,7 Z" fill="#333"/><rect x="351.4" y="14.2" width="10.6" height="6" fill="#fff"/><rect x="352.8" y="7.8" width="7" height="3.9" fill="#fff"/><rect x="357.6" y="8.6" width="1.3" height="2.2" fill="#333"/><rect x="382" y="11.4" width="15" height="3.8" fill="#111"/><rect x="418" y="11.4" width="14.8" height="3.8" fill="#111"/><rect x="423.5" y="5.8" width="3.8" height="15" fill="#111"/><line x1="396.5" y1="25.5" x2="396.5" y2="33.5" stroke="#d8d8d8" stroke-width="1"/><line x1="432.5" y1="25.5" x2="432.5" y2="33.5" stroke="#d8d8d8" stroke-width="1"/></svg></body></html>
